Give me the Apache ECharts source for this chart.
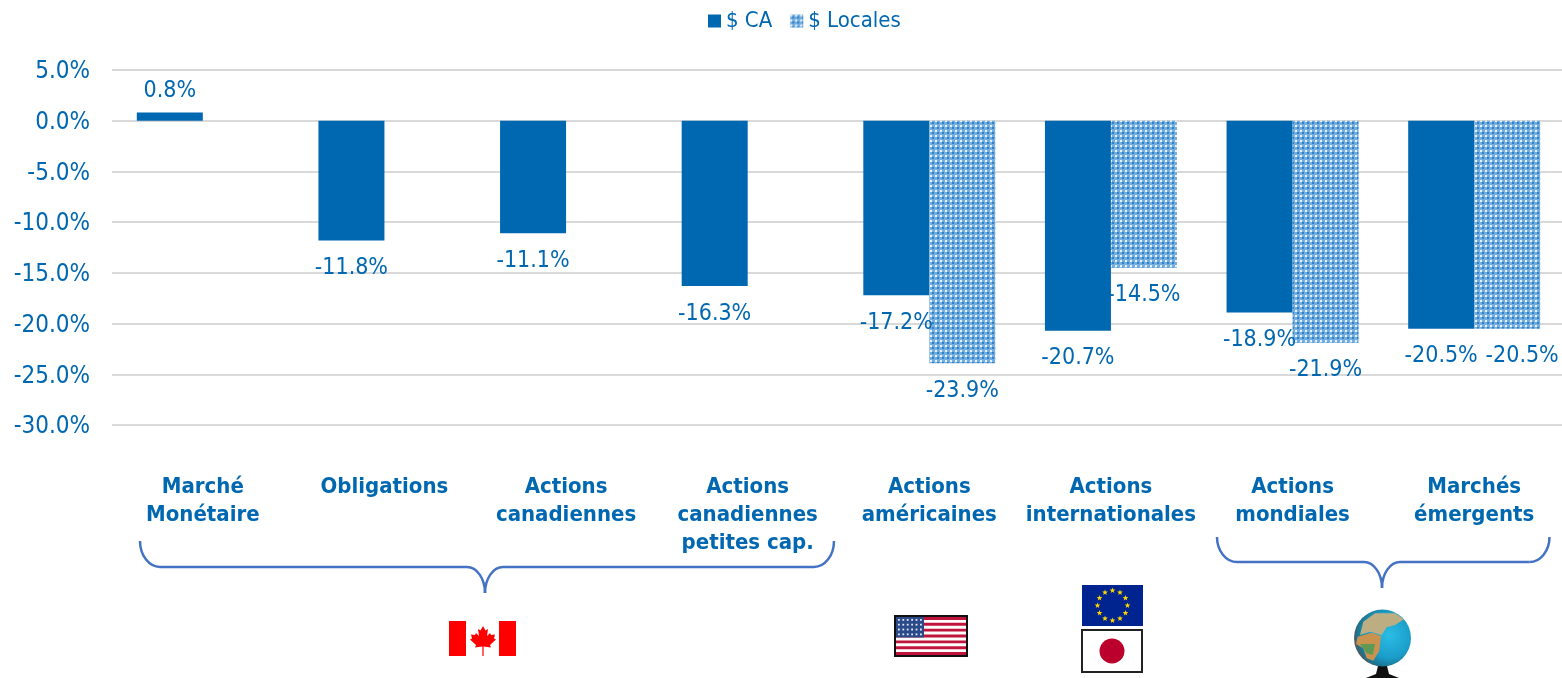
<!DOCTYPE html>
<html><head><meta charset="utf-8">
<style>html,body{margin:0;padding:0;background:#fff;overflow:hidden;width:1562px;height:678px}#c{width:1570px;height:678px}</style>
<script src="https://cdn.jsdelivr.net/npm/echarts@6/dist/echarts.min.js"></script>
</head><body><div id="c"></div>
<script>
const categories = ['Marché\nMonétaire','Obligations','Actions\ncanadiennes','Actions\ncanadiennes\npetites cap.','Actions\naméricaines','Actions\ninternationales','Actions\nmondiales','Marchés\némergents'];
const seriesCA = [0.8,-11.8,-11.1,-16.3,-17.2,-20.7,-18.9,-20.5];
const seriesLocal = [null,null,null,null,-23.9,-14.5,-21.9,-20.5];
const BLUE = '#0067b1';
const FONT = '"DejaVu Sans Condensed", "DejaVu Sans", sans-serif';

function pattern(){
  const c=document.createElement('canvas');c.width=5;c.height=5;
  const g=c.getContext('2d');
  g.fillStyle='#74aee0';g.fillRect(0,0,5,5);
  g.fillStyle='#e6f1fa';g.fillRect(0,0,2,2);
  g.fillStyle='#2f82c6';g.fillRect(2,2,2,2);
  return c;
}
const patFill={image:pattern(),repeat:'repeat'};
const pct=p=>p.value==null?'':p.value.toFixed(1)+'%';
const chart=echarts.init(document.getElementById('c'),null,{renderer:'canvas'});

const braceStyle={stroke:'#4472c4',lineWidth:2.5,fill:null};
const bez=(x1,y1,cpx1,cpy1,cpx2,cpy2,x2,y2)=>({type:'bezierCurve',shape:{x1,y1,cpx1,cpy1,cpx2,cpy2,x2,y2},style:braceStyle});
const seg=(x1,y1,x2,y2)=>({type:'line',shape:{x1,y1,x2,y2},style:braceStyle});
function brace(x0,x1,xm,y0,y1,y2){
  const r=20,c=18,h=y1-y0,t=y2-y1;
  return [
    bez(x0,y0,x0,y0+h*.55,x0+r*.45,y1,x0+r,y1),
    seg(x0+r,y1,xm-c,y1),
    bez(xm-c,y1,xm-c*.45,y1,xm,y1+t*.45,xm,y2),
    bez(xm,y2,xm,y1+t*.45,xm+c*.45,y1,xm+c,y1),
    seg(xm+c,y1,x1-r,y1),
    bez(x1-r,y1,x1-r*.45,y1,x1,y0+h*.55,x1,y0)
  ];
}
const rect=(x,y,w,h,fill,extra)=>({type:'rect',shape:{x,y,width:w,height:h},style:Object.assign({fill},extra||{})});
const poly=(points,fill,opacity)=>({type:'polygon',shape:{points},style:{fill,opacity:opacity==null?1:opacity}});
function usFlag(){
  const x=896,y=617,w=70,h=38,out=[rect(x-1,y-1,w+2,h+2,'#fff',{stroke:'#111',lineWidth:2})];
  for(let i=0;i<7;i++)out.push(rect(x,y+i*h*2/13,w,h/13,'#c0143c'));
  out.push(rect(x,y,28,h*7/13,'#2b4a8a'));
  for(let r=0;r<4;r++)for(let k=0;k<6;k++)out.push(rect(x+2+k*4.4,y+2+r*4.8,1.8,1.8,'#e4e9f5'));
  return out;
}
function star(x,y,r){const p=[];for(let i=0;i<10;i++){const a=i*Math.PI/5,q=i%2?r*0.42:r;p.push([x+q*Math.sin(a),y-q*Math.cos(a)]);}return p;}
function euFlag(){
  const cx=1112.5,cy=605.5,out=[rect(1082,585,61,41,'#00248f')];
  for(let i=0;i<12;i++){const a=i*Math.PI/6;
    out.push(poly(star(cx+15*Math.sin(a),cy-15*Math.cos(a),3),'#ffd500'));}
  return out;
}
const leaf=[[483,626],[485.5,630.5],[488,629],[487,636],[490,633],[491,635],[495,634.5],[494,638.5],[496,639.5],[490,645],[491,647.5],[483.6,646.5],[483.6,656],[482.4,656],[482.4,646.5],[475,647.5],[476,645],[470,639.5],[472,638.5],[471,634.5],[475,635],[476,633],[479,636],[478,629],[480.5,630.5]];
const z=pts=>pts.map(p=>[1200+p[0]/3,520+p[1]/3]);
const eurasia=z([[490,305],[525,280],[585,280],[612,298],[585,315],[560,322],[545,345],[510,335],[480,345]]);
const africa=z([[473,350],[515,338],[543,348],[538,392],[520,422],[500,415],[490,385],[468,372]]);
const green=z([[480,372],[525,372],[518,405],[500,400]]);

chart.setOption({
  animation:false,
  textStyle:{fontFamily:FONT},
  color:[BLUE,'#5a9fd4'],
  legend:{top:5,left:703,itemWidth:13,itemHeight:13,itemGap:18,
    textStyle:{color:BLUE,fontSize:22,fontFamily:FONT},
    data:[{name:'$ CA',icon:'rect'},{name:'$ Locales',icon:'rect'}]},
  grid:{left:112,width:1453,top:70,height:355},
  xAxis:{type:'category',data:categories,position:'bottom',
    axisLine:{show:false},axisTick:{show:false},
    axisLabel:{interval:0,margin:48,color:BLUE,fontWeight:'bold',fontSize:22,lineHeight:28,fontFamily:FONT,verticalAlign:'top'}},
  yAxis:{type:'value',min:-30,max:5,interval:5,
    axisLine:{show:false},axisTick:{show:false},
    axisLabel:{formatter:v=>v.toFixed(1)+'%',color:BLUE,fontSize:24,lineHeight:24,margin:22,verticalAlign:'top',padding:[-10,0,0,0],fontFamily:FONT},
    splitLine:{lineStyle:{color:'#d9d9d9',width:2}}},
  series:[
    {name:'$ CA',type:'bar',barWidth:66,barGap:'0%',itemStyle:{color:BLUE},
     data:seriesCA.map(v=>v>0?{value:v,label:{position:'top',distance:10}}:v),
     label:{show:true,position:'bottom',distance:16,color:BLUE,fontSize:23,fontFamily:FONT,formatter:pct}},
    {name:'$ Locales',type:'bar',barWidth:66,barGap:'0%',itemStyle:{color:patFill},
     data:seriesLocal.map((v,i)=>i===seriesLocal.length-1?{value:v,label:{offset:[15,0]}}:v),
     label:{show:true,position:'bottom',distance:16,color:BLUE,fontSize:23,fontFamily:FONT,formatter:pct}}
  ],
  graphic:{elements:[
    ...brace(140,834,485,541,567,593),
    ...brace(1217,1549.5,1382,537,562,588),
    rect(449,621,67,35,'#f00'),rect(466,621,33,35,'#fff'),
    poly(leaf,'#f00'),
    ...usFlag(),...euFlag(),
    rect(1082,630,60,42,'#fff',{stroke:'#222',lineWidth:2}),
    {type:'circle',shape:{cx:1112,cy:651,r:12.5},style:{fill:'#bc002d'}},
    poly([[1378,666],[1387,666],[1389,674],[1399,678],[1366,678],[1376,674]],'#111'),
    {type:'circle',shape:{cx:1382.5,cy:638,r:28.5},style:{fill:{type:'radial',x:0.62,y:0.45,r:0.62,colorStops:[{offset:0,color:'#2bbde6'},{offset:0.65,color:'#1a9cc8'},{offset:0.9,color:'#1b7590'},{offset:1,color:'#4a5a60'}]}}},
    poly(eurasia,'#bcae82'),poly(africa,'#c9934f'),poly(green,'#5f9a55')
  ]}
});
</script></body></html>
